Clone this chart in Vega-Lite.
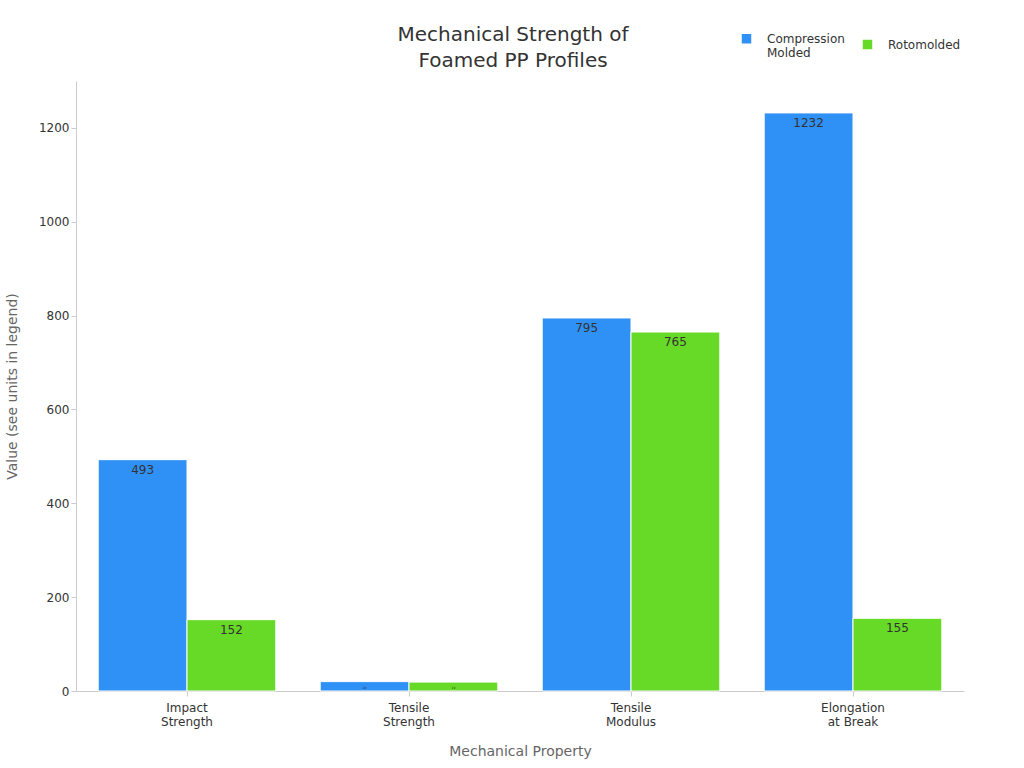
{
  "$schema": "https://vega.github.io/schema/vega-lite/v6.json",
  "width": 1024,
  "height": 768,
  "autosize": {"type": "fit", "contains": "padding"},
  "padding": {"left": 5, "right": 60, "top": 25, "bottom": 10},
  "background": "white",
  "config": {
    "view": {"stroke": null},
    "font": "DejaVu Sans",
    "axis": {"labelColor": "#333", "titleColor": "#666", "titleFontWeight": "normal", "titleFontSize": 14, "labelFontSize": 12, "domainColor": "#ccc", "tickColor": "#ccc", "grid": false}
  },
  "title": {
    "text": ["Mechanical Strength of", "Foamed PP Profiles"],
    "fontSize": 20,
    "lineHeight": 26,
    "fontWeight": "normal",
    "color": "#333",
    "anchor": "middle",
    "dx": -7,
    "offset": 10
  },
  "data": {
    "values": [
      {"property": "Impact Strength", "method": "Compression Molded", "value": 493},
      {"property": "Impact Strength", "method": "Rotomolded", "value": 152},
      {"property": "Tensile Strength", "method": "Compression Molded", "value": 20},
      {"property": "Tensile Strength", "method": "Rotomolded", "value": 19},
      {"property": "Tensile Modulus", "method": "Compression Molded", "value": 795},
      {"property": "Tensile Modulus", "method": "Rotomolded", "value": 765},
      {"property": "Elongation at Break", "method": "Compression Molded", "value": 1232},
      {"property": "Elongation at Break", "method": "Rotomolded", "value": 155}
    ]
  },
  "encoding": {
    "x": {
      "field": "property",
      "type": "nominal",
      "sort": null,
      "scale": {"paddingInner": 0.2, "paddingOuter": 0.1},
      "title": "Mechanical Property",
      "axis": {
        "labelAngle": 0,
        "labelPadding": 6,
        "titlePadding": 17,
        "labelExpr": "datum.label == 'Elongation at Break' ? ['Elongation', 'at Break'] : split(datum.label, ' ')"
      }
    },
    "xOffset": {"field": "method", "type": "nominal"},
    "y": {
      "field": "value",
      "type": "quantitative",
      "scale": {"domain": [0, 1300], "nice": false},
      "title": "Value (see units in legend)",
      "axis": {"values": [0, 200, 400, 600, 800, 1000, 1200], "format": "d", "titlePadding": 19}
    }
  },
  "layer": [
    {
      "mark": {"type": "bar", "stroke": "white", "strokeWidth": 1},
      "encoding": {
        "color": {
          "field": "method",
          "type": "nominal",
          "scale": {"domain": ["Compression Molded", "Rotomolded"], "range": ["#2f91f5", "#66da26"]},
          "legend": {
            "title": null,
            "orient": "none",
            "legendX": 664,
            "legendY": -49,
            "direction": "horizontal",
            "symbolType": "square",
            "symbolSize": 120,
            "labelFontSize": 12,
            "labelColor": "#333",
            "labelOffset": 14,
            "columnPadding": 14,
            "labelExpr": "datum.label == 'Compression Molded' ? ['Compression', 'Molded'] : datum.label"
          }
        }
      }
    },
    {
      "mark": {"type": "text", "baseline": "top", "dy": 5, "color": "#333"},
      "encoding": {
        "text": {"field": "value", "type": "quantitative"},
        "size": {"condition": {"test": "datum.value < 50", "value": 3}, "value": 12}
      }
    }
  ]
}
